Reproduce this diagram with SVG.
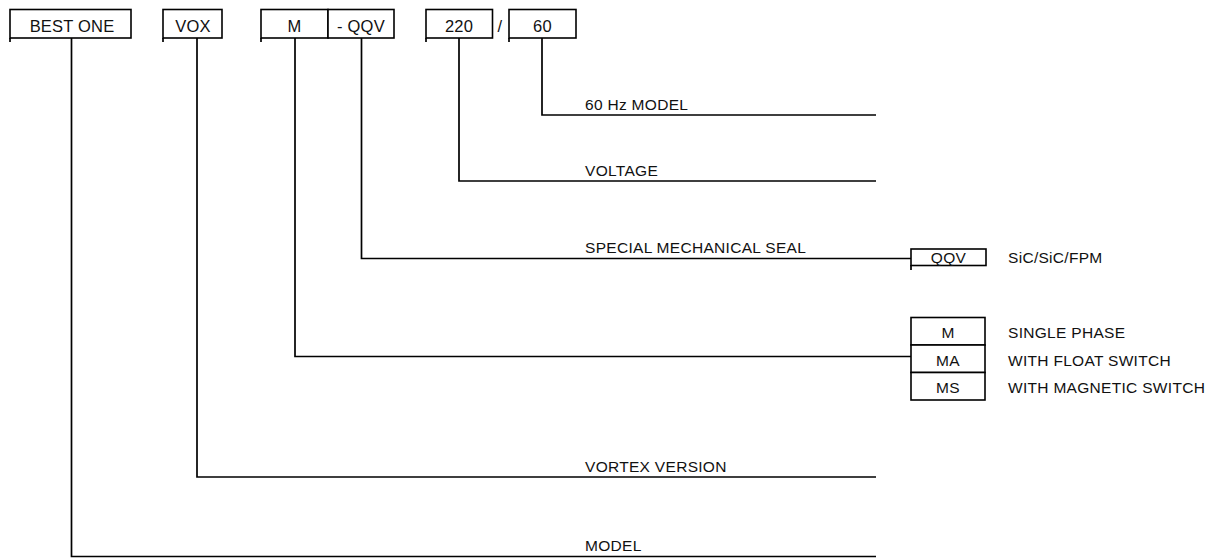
<svg xmlns="http://www.w3.org/2000/svg" width="1213" height="558" viewBox="0 0 1213 558">
<style>
.bx{fill:#fff;stroke:#000;stroke-width:1.6}
.ln{fill:none;stroke:#000;stroke-width:1.7}
text{font-family:"Liberation Sans",Arial,sans-serif;font-size:15.5px;letter-spacing:0.3px;fill:#111}
.t{font-size:16.5px;letter-spacing:0.2px}
.c{text-anchor:middle}
</style>
<rect width="1213" height="558" fill="#fff"/>
<g id="connectors">
<path class="ln" d="M71.5 38 V556.5 H876"/>
<path class="ln" d="M197 38 V477 H876"/>
<path class="ln" d="M295 38 V356.5 H911"/>
<path class="ln" d="M361.5 38 V258.5 H911"/>
<path class="ln" d="M459 38 V181 H876"/>
<path class="ln" d="M542 38 V115 H876"/>
</g>
<g id="code-bestone"><rect class="bx" x="10" y="9.5" width="121" height="28.5"/><path class="ln" d="M10 38 V42"/><text class="c t" x="72" y="31.5">BEST ONE</text></g>
<g id="code-vox"><rect class="bx" x="163" y="9.5" width="59" height="28.5"/><path class="ln" d="M163 38 V42"/><text class="c t" x="193" y="31.5">VOX</text></g>
<g id="code-m"><rect class="bx" x="261" y="9.5" width="67" height="28.5"/><path class="ln" d="M261 38 V42"/><text class="c t" x="294.5" y="31.5">M</text></g>
<g id="code-qqv"><rect class="bx" x="328" y="9.5" width="66" height="28.5"/><text class="c t" x="361" y="31.5">- QQV</text></g>
<g id="code-220"><rect class="bx" x="426" y="9.5" width="66.5" height="28.5"/><path class="ln" d="M426 38 V42"/><text class="c t" x="459" y="31.5">220</text></g>
<text x="500" y="31.5" class="c t">/</text>
<g id="code-60"><rect class="bx" x="509" y="9.5" width="67" height="28.5"/><path class="ln" d="M509 38 V42"/><text class="c t" x="542.5" y="31.5">60</text></g>
<g id="label-60hz"><text x="585" y="110">60 Hz MODEL</text></g>
<g id="label-voltage"><text x="585" y="176">VOLTAGE</text></g>
<g id="label-seal"><text x="585" y="253">SPECIAL MECHANICAL SEAL</text></g>
<g id="label-vortex"><text x="585" y="472">VORTEX VERSION</text></g>
<g id="label-model"><text x="585" y="551">MODEL</text></g>
<g id="opt-qqv"><rect class="bx" x="911" y="249" width="75" height="16.5"/><path class="ln" d="M911 265 V270"/><text class="c" x="948.5" y="262.5">QQV</text><text x="1008" y="262.5">SiC/SiC/FPM</text></g>
<g id="opt-m">
<rect class="bx" x="911" y="317.5" width="74" height="27.5"/><text class="c" x="948" y="338">M</text><text x="1008" y="338">SINGLE PHASE</text>
<rect class="bx" x="911" y="345" width="74" height="27.5"/><text class="c" x="948" y="366">MA</text><text x="1008" y="366">WITH FLOAT SWITCH</text>
<rect class="bx" x="911" y="372.5" width="74" height="27.5"/><text class="c" x="948" y="393">MS</text><text x="1008" y="393">WITH MAGNETIC SWITCH</text>
</g>
</svg>
